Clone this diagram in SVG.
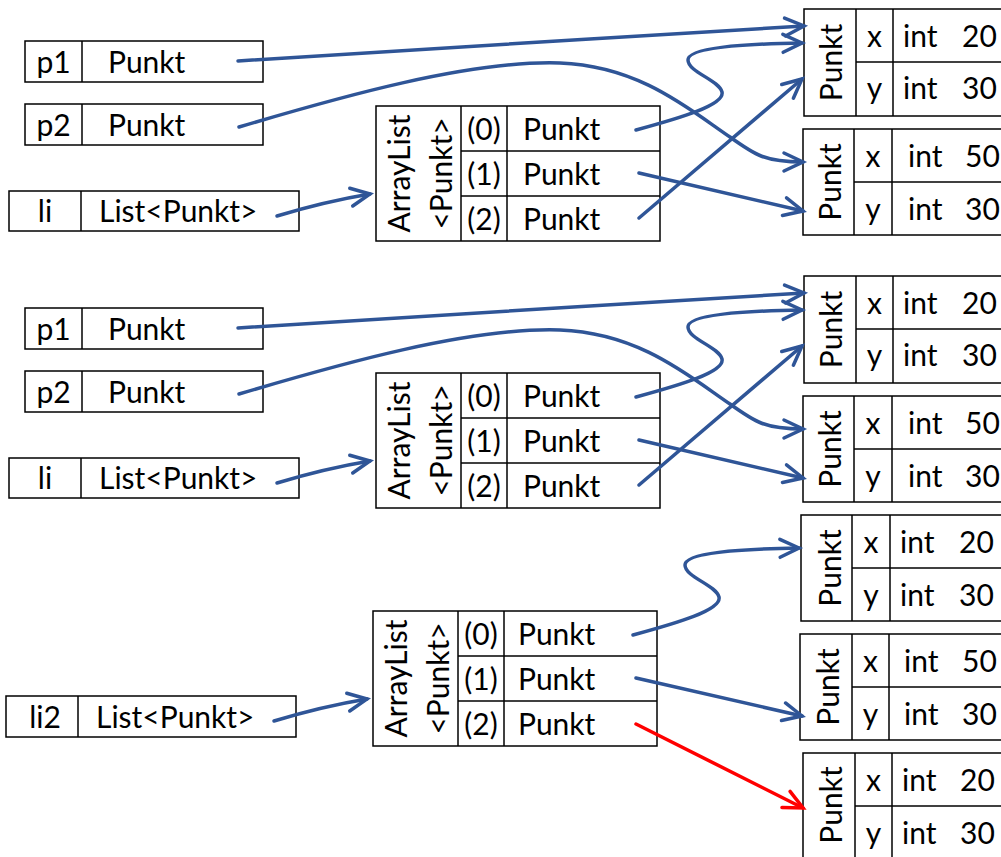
<svg xmlns="http://www.w3.org/2000/svg" width="1001" height="857" viewBox="0 0 1001 857">
<style>
.box{fill:#fff;stroke:#000;stroke-width:1.5}
.ln{stroke:#000;stroke-width:1.5;fill:none}
.t{font-family:Lato,"Liberation Sans",sans-serif;font-size:30px;fill:#000}
.c{text-anchor:middle}
.conn{fill:none;stroke:#2F5597;stroke-width:3.5;stroke-linecap:round;marker-end:url(#ah)}
.red{fill:none;stroke:#FF0000;stroke-width:3.5;stroke-linecap:round;marker-end:url(#ahr)}
</style>
<defs>
<marker id="ah" markerUnits="userSpaceOnUse" viewBox="-24 -14 28 28" refX="0" refY="0" markerWidth="28" markerHeight="28" orient="auto" overflow="visible">
<path d="M-19,-9 L0,0 L-19,9" fill="none" stroke="#2F5597" stroke-width="3.5" stroke-linecap="round"/>
</marker>
<marker id="ahr" markerUnits="userSpaceOnUse" viewBox="-24 -14 28 28" refX="0" refY="0" markerWidth="28" markerHeight="28" orient="auto" overflow="visible">
<path d="M-19,-9 L0,0 L-19,9" fill="none" stroke="#FF0000" stroke-width="3.5" stroke-linecap="round"/>
</marker>
</defs>
<rect width="1001" height="857" fill="#fff"/>

<!-- Section 1 -->
<g id="p1">
<rect class="box" x="25" y="41" width="238" height="41"/>
<line class="ln" x1="82" y1="41" x2="82" y2="82"/>
<text class="t c" x="53.5" y="73">p1</text>
<text class="t" x="108" y="73">Punkt</text>
</g>
<g id="p2">
<rect class="box" x="25" y="104" width="238" height="41"/>
<line class="ln" x1="82" y1="104" x2="82" y2="145"/>
<text class="t c" x="53.5" y="136">p2</text>
<text class="t" x="108" y="136">Punkt</text>
</g>
<g id="li">
<rect class="box" x="9" y="191" width="290" height="40"/>
<line class="ln" x1="81" y1="191" x2="81" y2="231"/>
<text class="t c" x="45" y="222">li</text>
<text class="t" x="99" y="222">List&lt;Punkt&gt;</text>
</g>
<g id="arraylist">
<rect class="box" x="376" y="106" width="284" height="135"/>
<line class="ln" x1="461" y1="106" x2="461" y2="241"/>
<line class="ln" x1="507" y1="106" x2="507" y2="241"/>
<line class="ln" x1="461" y1="151" x2="660" y2="151"/>
<line class="ln" x1="461" y1="196" x2="660" y2="196"/>
<text class="t c" transform="translate(410,173.5) rotate(-90)">ArrayList</text>
<text class="t c" transform="translate(452,173.5) rotate(-90)">&lt;Punkt&gt;</text>
<text class="t c" x="484" y="140">(0)</text>
<text class="t" x="523" y="140">Punkt</text>
<text class="t c" x="484" y="185">(1)</text>
<text class="t" x="523" y="185">Punkt</text>
<text class="t c" x="484" y="230">(2)</text>
<text class="t" x="523" y="230">Punkt</text>
</g>
<g id="obj1">
<rect class="box" x="804" y="9" width="210" height="107"/>
<line class="ln" x1="856" y1="9" x2="856" y2="116"/>
<line class="ln" x1="893" y1="9" x2="893" y2="116"/>
<line class="ln" x1="856" y1="62" x2="1014" y2="62"/>
<text class="t c" transform="translate(842,62.5) rotate(-90)">Punkt</text>
<text class="t c" x="874.5" y="47">x</text>
<text class="t" x="903" y="47">int</text>
<text class="t" x="962" y="47">20</text>
<text class="t c" x="874.5" y="99">y</text>
<text class="t" x="903" y="99">int</text>
<text class="t" x="962" y="99">30</text>
</g>
<g id="obj2">
<rect class="box" x="803" y="129" width="210" height="106"/>
<line class="ln" x1="854" y1="129" x2="854" y2="235"/>
<line class="ln" x1="892" y1="129" x2="892" y2="235"/>
<line class="ln" x1="854" y1="182" x2="1013" y2="182"/>
<text class="t c" transform="translate(841,182) rotate(-90)">Punkt</text>
<text class="t c" x="873" y="167">x</text>
<text class="t" x="908" y="167">int</text>
<text class="t" x="965" y="167">50</text>
<text class="t c" x="873" y="220">y</text>
<text class="t" x="908" y="220">int</text>
<text class="t" x="965" y="220">30</text>
</g>

<!-- Section 2 -->
<g id="p1-b" transform="translate(0,267)">
<rect class="box" x="25" y="41" width="238" height="41"/>
<line class="ln" x1="82" y1="41" x2="82" y2="82"/>
<text class="t c" x="53.5" y="73">p1</text>
<text class="t" x="108" y="73">Punkt</text>
</g>
<g id="p2-b" transform="translate(0,267)">
<rect class="box" x="25" y="104" width="238" height="41"/>
<line class="ln" x1="82" y1="104" x2="82" y2="145"/>
<text class="t c" x="53.5" y="136">p2</text>
<text class="t" x="108" y="136">Punkt</text>
</g>
<g id="li-b" transform="translate(0,267)">
<rect class="box" x="9" y="191" width="290" height="40"/>
<line class="ln" x1="81" y1="191" x2="81" y2="231"/>
<text class="t c" x="45" y="222">li</text>
<text class="t" x="99" y="222">List&lt;Punkt&gt;</text>
</g>
<g id="arraylist-b" transform="translate(0,267)">
<rect class="box" x="376" y="106" width="284" height="135"/>
<line class="ln" x1="461" y1="106" x2="461" y2="241"/>
<line class="ln" x1="507" y1="106" x2="507" y2="241"/>
<line class="ln" x1="461" y1="151" x2="660" y2="151"/>
<line class="ln" x1="461" y1="196" x2="660" y2="196"/>
<text class="t c" transform="translate(410,173.5) rotate(-90)">ArrayList</text>
<text class="t c" transform="translate(452,173.5) rotate(-90)">&lt;Punkt&gt;</text>
<text class="t c" x="484" y="140">(0)</text>
<text class="t" x="523" y="140">Punkt</text>
<text class="t c" x="484" y="185">(1)</text>
<text class="t" x="523" y="185">Punkt</text>
<text class="t c" x="484" y="230">(2)</text>
<text class="t" x="523" y="230">Punkt</text>
</g>
<g id="obj1-b" transform="translate(0,267)">
<rect class="box" x="804" y="9" width="210" height="107"/>
<line class="ln" x1="856" y1="9" x2="856" y2="116"/>
<line class="ln" x1="893" y1="9" x2="893" y2="116"/>
<line class="ln" x1="856" y1="62" x2="1014" y2="62"/>
<text class="t c" transform="translate(842,62.5) rotate(-90)">Punkt</text>
<text class="t c" x="874.5" y="47">x</text>
<text class="t" x="903" y="47">int</text>
<text class="t" x="962" y="47">20</text>
<text class="t c" x="874.5" y="99">y</text>
<text class="t" x="903" y="99">int</text>
<text class="t" x="962" y="99">30</text>
</g>
<g id="obj2-b" transform="translate(0,267)">
<rect class="box" x="803" y="129" width="210" height="106"/>
<line class="ln" x1="854" y1="129" x2="854" y2="235"/>
<line class="ln" x1="892" y1="129" x2="892" y2="235"/>
<line class="ln" x1="854" y1="182" x2="1013" y2="182"/>
<text class="t c" transform="translate(841,182) rotate(-90)">Punkt</text>
<text class="t c" x="873" y="167">x</text>
<text class="t" x="908" y="167">int</text>
<text class="t" x="965" y="167">50</text>
<text class="t c" x="873" y="220">y</text>
<text class="t" x="908" y="220">int</text>
<text class="t" x="965" y="220">30</text>
</g>

<!-- Section 3 -->
<g id="li2">
<rect class="box" x="6" y="696" width="290" height="41"/>
<line class="ln" x1="78" y1="696" x2="78" y2="737"/>
<text class="t c" x="45" y="728">li2</text>
<text class="t" x="96" y="728">List&lt;Punkt&gt;</text>
</g>
<g id="arraylist-c" transform="translate(-3,505)">
<rect class="box" x="376" y="106" width="284" height="135"/>
<line class="ln" x1="461" y1="106" x2="461" y2="241"/>
<line class="ln" x1="507" y1="106" x2="507" y2="241"/>
<line class="ln" x1="461" y1="151" x2="660" y2="151"/>
<line class="ln" x1="461" y1="196" x2="660" y2="196"/>
<text class="t c" transform="translate(410,173.5) rotate(-90)">ArrayList</text>
<text class="t c" transform="translate(452,173.5) rotate(-90)">&lt;Punkt&gt;</text>
<text class="t c" x="484" y="140">(0)</text>
<text class="t" x="521" y="140">Punkt</text>
<text class="t c" x="484" y="185">(1)</text>
<text class="t" x="521" y="185">Punkt</text>
<text class="t c" x="484" y="230">(2)</text>
<text class="t" x="521" y="230">Punkt</text>
</g>
<g id="objA">
<rect class="box" x="801" y="515" width="210" height="106"/>
<line class="ln" x1="852" y1="515" x2="852" y2="621"/>
<line class="ln" x1="890" y1="515" x2="890" y2="621"/>
<line class="ln" x1="852" y1="568" x2="1011" y2="568"/>
<text class="t c" transform="translate(841,568) rotate(-90)">Punkt</text>
<text class="t c" x="871" y="553">x</text>
<text class="t" x="900" y="553">int</text>
<text class="t" x="959" y="553">20</text>
<text class="t c" x="871" y="606">y</text>
<text class="t" x="900" y="606">int</text>
<text class="t" x="959" y="606">30</text>
</g>
<g id="objB">
<rect class="box" x="800" y="634" width="210" height="106"/>
<line class="ln" x1="852" y1="634" x2="852" y2="740"/>
<line class="ln" x1="889" y1="634" x2="889" y2="740"/>
<line class="ln" x1="852" y1="687" x2="1010" y2="687"/>
<text class="t c" transform="translate(839,687) rotate(-90)">Punkt</text>
<text class="t c" x="870.5" y="672">x</text>
<text class="t" x="904" y="672">int</text>
<text class="t" x="962" y="672">50</text>
<text class="t c" x="870.5" y="725">y</text>
<text class="t" x="904" y="725">int</text>
<text class="t" x="962" y="725">30</text>
</g>
<g id="objC">
<rect class="box" x="803" y="753" width="210" height="110"/>
<line class="ln" x1="855" y1="753" x2="855" y2="863"/>
<line class="ln" x1="892" y1="753" x2="892" y2="863"/>
<line class="ln" x1="855" y1="806" x2="1013" y2="806"/>
<text class="t c" transform="translate(842,805) rotate(-90)">Punkt</text>
<text class="t c" x="873.5" y="791">x</text>
<text class="t" x="902" y="791">int</text>
<text class="t" x="960" y="791">20</text>
<text class="t c" x="873.5" y="844">y</text>
<text class="t" x="902" y="844">int</text>
<text class="t" x="960" y="844">30</text>
</g>

<g id="connectors">
<path class="conn" d="M238,61 C400,52 620,36 804,26"/>
<path class="conn" d="M239,127 C340,97 470,60 560,63 C640,66 690,110 730,137 C755,155 765,162 803,162"/>
<path class="conn" d="M277,216 C310,206 340,199 370,194"/>
<path class="conn" d="M636,130 C680,118 725,105 722,92 C719,80 688,72 688,60 C688,48 740,44 802,43"/>
<path class="conn" d="M639,173 L803,211"/>
<path class="conn" d="M639,218 L802,79"/>

<path class="conn" d="M238,328 C400,319 620,303 804,293"/>
<path class="conn" d="M239,394 C340,364 470,327 560,330 C640,333 690,377 730,404 C755,422 765,429 803,429"/>
<path class="conn" d="M277,483 C310,473 340,466 370,461"/>
<path class="conn" d="M636,397 C680,385 725,372 722,359 C719,347 688,339 688,327 C688,315 740,311 802,310"/>
<path class="conn" d="M639,440 L803,478"/>
<path class="conn" d="M639,485 L802,346"/>

<path class="conn" d="M274,721 C307,711 337,704 367,699"/>
<path class="conn" d="M633,635 C677,623 722,610 719,597 C716,585 685,577 685,565 C685,553 737,549 799,548"/>
<path class="conn" d="M636,678 L802,716"/>
<path class="red" d="M636,724 L803,808"/>
</g>
</svg>
